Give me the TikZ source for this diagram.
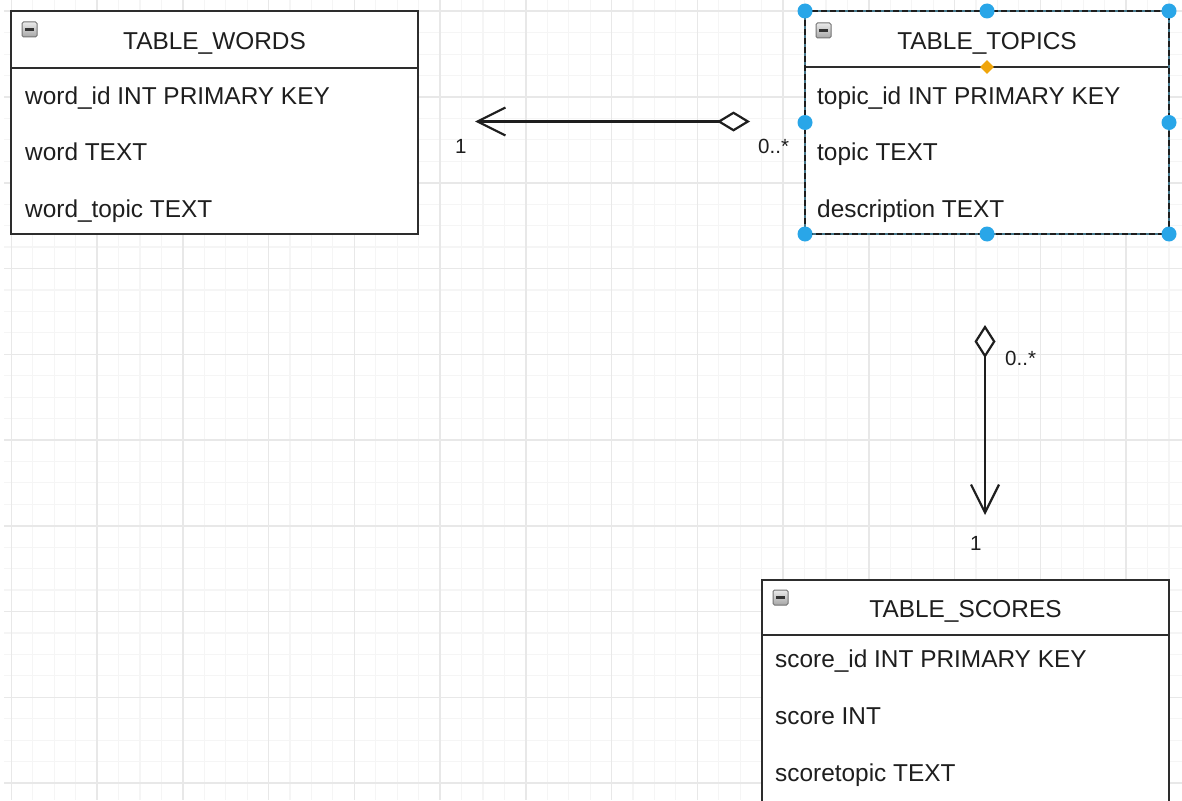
\documentclass[tikz,border=0pt]{standalone}
\usepackage{fontspec}
\setmainfont{Liberation Sans}
\usetikzlibrary{arrows.meta,shapes.geometric}

\definecolor{gridminor}{RGB}{245,245,245}
\definecolor{gridmajor}{RGB}{232,232,232}
\definecolor{ink}{RGB}{30,30,30}
\definecolor{frame}{RGB}{45,45,45}
\definecolor{handleblue}{RGB}{41,166,232}
\definecolor{anchororange}{RGB}{240,165,10}
\definecolor{selteal}{RGB}{70,120,140}

\tikzset{
  minorline/.style={draw=gridminor, line width=1.2pt},
  majorline/.style={draw=gridmajor, line width=1.5pt},
  tbl/.style={draw=frame, line width=2.3pt, fill=white, rectangle, inner sep=0pt, outer sep=0pt, anchor=north west},
  divider/.style={draw=frame, line width=2.3pt},
  field/.style={font=\fontsize{24.4}{28}\selectfont, text=ink, anchor=base west, inner sep=0pt},
  title/.style={font=\fontsize{24.4}{28}\selectfont, text=ink, anchor=base, inner sep=0pt},
  lbl/.style={font=\fontsize{20.5}{24}\selectfont, text=ink, anchor=base west, inner sep=0pt},
  minusbox/.style={rectangle, draw=black!55, line width=1pt, top color=black!8, bottom color=black!35,
    rounded corners=1.5pt, minimum size=15pt, inner sep=0pt,
    path picture={\draw[line width=2.4pt, black!80] ([xshift=-4.5pt]path picture bounding box.center) -- ([xshift=4.5pt]path picture bounding box.center);}},
  relation/.style={draw=ink, line width=2.2pt},
  handle/.style={circle, fill=handleblue, minimum size=15pt, inner sep=0pt},
  anchorpt/.style={diamond, fill=anchororange, minimum width=14pt, minimum height=14pt, inner sep=0pt, aspect=1},
}

\begin{document}
\begin{tikzpicture}[x=1pt, y=-1pt]
\useasboundingbox (0,0) rectangle (1182,800);
\clip (0,0) rectangle (1182,800);
\fill[white] (0,0) rectangle (1182,800);

% background grid: minor lines every 21.4375, major lines every 85.75
\foreach \i in {0,...,54} {
  \pgfmathsetmacro\gx{11.3+21.4375*\i}
  \draw[minorline] (\gx,0) -- (\gx,800);
}
\foreach \i in {-1,...,37} {
  \pgfmathsetmacro\gy{11.25+21.4375*\i}
  \draw[minorline] (4,\gy) -- (1182,\gy);
}
\foreach \i in {0,...,13} {
  \pgfmathsetmacro\gx{11.3+85.75*\i}
  \draw[majorline] (\gx,0) -- (\gx,800);
}
\foreach \i in {0,...,9} {
  \pgfmathsetmacro\gy{11.25+85.75*\i}
  \draw[majorline] (4,\gy) -- (1182,\gy);
}

% TABLE_WORDS
\node[tbl, minimum width=407pt, minimum height=223pt] (words) at (11,11) {};
\draw[divider] ([yshift=-57pt]words.north west) -- ([yshift=-57pt]words.north east);
\node[minusbox] (wicon) at (29.5,29.5) {};
\node[title] (wtitle) at (214.5,50) {TABLE\_WORDS};
\node[field] (w1) at (25,104) {word\_id INT PRIMARY KEY};
\node[field] (w2) at (25,160.5) {word TEXT};
\node[field] (w3) at (25,217) {word\_topic TEXT};

% TABLE_TOPICS
\node[tbl, minimum width=364pt, minimum height=223pt] (topics) at (805,11) {};
\draw[divider] ([yshift=-56pt]topics.north west) -- ([yshift=-56pt]topics.north east);
\node[minusbox] (ticon) at (823.5,30.5) {};
\node[title] (ttitle) at (987,50) {TABLE\_TOPICS};
\node[field] (t1) at (817,104) {topic\_id INT PRIMARY KEY};
\node[field] (t2) at (817,160.5) {topic TEXT};
\node[field] (t3) at (817,217) {description TEXT};

% TABLE_SCORES (runs past the lower edge)
\node[tbl, minimum width=407pt, minimum height=260pt] (scores) at (762,580) {};
\draw[divider] ([yshift=-55pt]scores.north west) -- ([yshift=-55pt]scores.north east);
\node[minusbox] (sicon) at (780.5,597.5) {};
\node[title] (stitle) at (965.5,617) {TABLE\_SCORES};
\node[field] (s1) at (775,667) {score\_id INT PRIMARY KEY};
\node[field] (s2) at (775,724) {score INT};
\node[field] (s3) at (775,781) {scoretopic TEXT};

% selection frame and handles on TABLE_TOPICS
\draw[draw=selteal, line width=2.3pt] (topics.north west) rectangle (topics.south east);
\draw[draw=ink, line width=2.3pt, dash pattern=on 6pt off 3pt] (topics.north west) rectangle (topics.south east);
\foreach \a [count=\k] in {north west, north, north east, west, east, south west, south, south east}
  \node[handle] (h\k) at (topics.\a) {};
\node[anchorpt] (tdiv) at ([yshift=-56pt]topics.north) {};

% relations
\draw[relation, {Diamond[fill=white, length=33pt, width=20pt]}-{Straight Barb[length=28pt, width=28pt]},
  shorten <=55pt, shorten >=57pt] ([yshift=1pt]topics.west) -- ([yshift=1pt]words.east);
\draw[relation, {Diamond[fill=white, length=33pt, width=21pt]}-{Straight Barb[length=28pt, width=28pt]},
  shorten <=91pt, shorten >=65pt] ([xshift=-2pt]topics.south) -- ([xshift=-2pt]topics.south |- scores.north);

% multiplicities
\node[lbl] (m1) at (455,153) {1};
\node[lbl] (m2) at (758,153) {0..*};
\node[lbl] (m3) at (1005,365) {0..*};
\node[lbl] (m4) at (970,550) {1};
\end{tikzpicture}
\end{document}
